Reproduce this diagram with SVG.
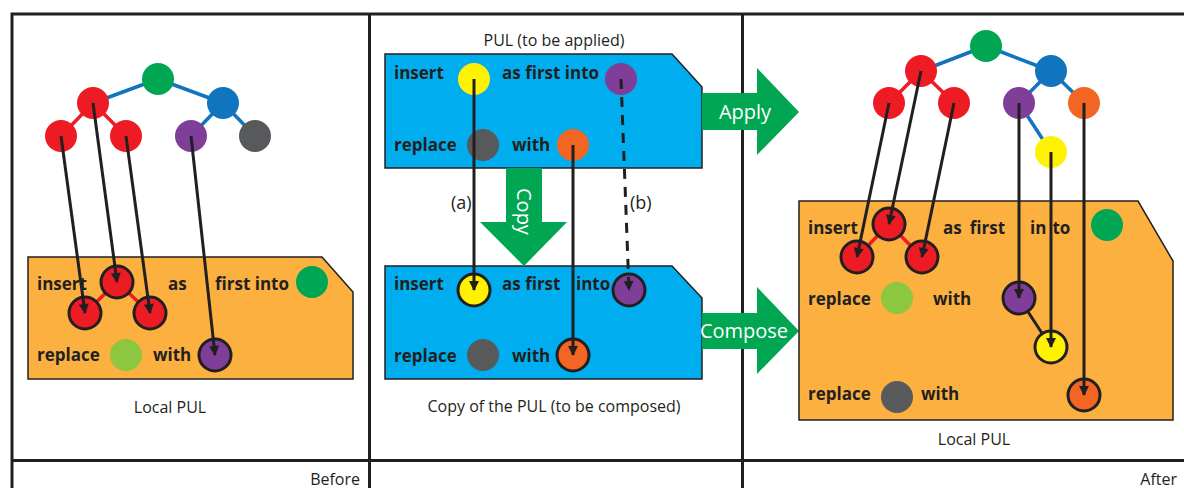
<svg xmlns="http://www.w3.org/2000/svg" width="1184" height="488" viewBox="0 0 1184 488">
  <defs>
    <style>
      .frame { stroke: #231f20; stroke-width: 3; fill: none; }
      .lbl { font-family: "Open Sans", "Liberation Sans", sans-serif; font-weight: 700; font-size: 17px; fill: #231f20; }
      .cap { font-family: "Open Sans", "Liberation Sans", sans-serif; font-size: 16px; fill: #231f20; }
      .tag { font-family: "Open Sans", "Liberation Sans", sans-serif; font-size: 18px; fill: #231f20; }
      .big { font-family: "Open Sans", "Liberation Sans", sans-serif; font-size: 20px; fill: #ffffff; }
      .box { stroke: #231f20; stroke-width: 1.5; }
      .orange-box { fill: #fbb040; }
      .blue-box { fill: #00aeef; }
      .go { fill: #00a651; }
      .ring { stroke: #231f20; stroke-width: 3; }
      .e-blue { stroke: #1174be; stroke-width: 3.5; }
      .e-red { stroke: #ed1c24; stroke-width: 3.5; }
      .e-black { stroke: #231f20; stroke-width: 3; }
      .link { stroke: #231f20; stroke-width: 3; fill: none; }
      .dash { stroke-dasharray: 10 8; }
      .red { fill: #ed1c24; }
      .green { fill: #00a651; }
      .blue { fill: #1174be; }
      .purple { fill: #7f3f98; }
      .gray { fill: #58595b; }
      .yellow { fill: #fff200; }
      .orange { fill: #f26522; }
      .lime { fill: #8dc63f; }
    </style>
    <marker id="tip" markerUnits="userSpaceOnUse" viewBox="0 0 10 10" markerWidth="11" markerHeight="10" refX="9" refY="5" orient="auto">
      <path d="M0,0 L10,5 L0,10 Z" fill="#231f20"/>
    </marker>
  </defs>

  <rect width="1184" height="488" fill="#ffffff"/>

  <!-- panel frame -->
  <g id="frame">
    <path class="frame" d="M12,488 V14 H1184 M369.5,14 V488 M742.5,14 V488 M12,460.5 H1184"/>
    <text class="cap" x="360" y="485" text-anchor="end">Before</text>
    <text class="cap" x="1177" y="485" text-anchor="end">After</text>
  </g>

  <!-- tree edges (drawn beneath the nodes) -->
  <g id="edges">
    <line class="e-blue" x1="158" y1="79" x2="93" y2="103"/>
    <line class="e-blue" x1="158" y1="79" x2="223" y2="103"/>
    <line class="e-red" x1="93" y1="103" x2="61" y2="136"/>
    <line class="e-red" x1="93" y1="103" x2="126" y2="136"/>
    <line class="e-blue" x1="223" y1="103" x2="191" y2="136"/>
    <line class="e-blue" x1="223" y1="103" x2="255" y2="136"/>

    <line class="e-blue" x1="986" y1="46" x2="921" y2="71"/>
    <line class="e-blue" x1="986" y1="46" x2="1051" y2="71"/>
    <line class="e-red" x1="921" y1="71" x2="889" y2="103"/>
    <line class="e-red" x1="921" y1="71" x2="954" y2="103"/>
    <line class="e-blue" x1="1051" y1="71" x2="1019" y2="103"/>
    <line class="e-blue" x1="1051" y1="71" x2="1084" y2="103"/>
    <line class="e-blue" x1="1019" y1="103" x2="1051" y2="152"/>
  </g>

  <!-- document tree, before -->
  <g id="tree-before">
    <circle class="green" cx="158" cy="79" r="16"/>
    <circle class="red" cx="93" cy="103" r="16"/>
    <circle class="blue" cx="223" cy="103" r="16"/>
    <circle class="red" cx="61" cy="136" r="16"/>
    <circle class="red" cx="126" cy="136" r="16"/>
    <circle class="purple" cx="191" cy="136" r="16"/>
    <circle class="gray" cx="255" cy="136" r="16"/>
  </g>

  <!-- local PUL, before -->
  <g id="local-pul-before">
    <path class="box orange-box" d="M28,257 H322 L353,292 V379 H28 Z"/>
    <line class="e-red" x1="117" y1="282" x2="85" y2="313"/>
    <line class="e-red" x1="117" y1="282" x2="150" y2="313"/>
    <text class="lbl" x="37" y="290">insert</text>
    <text class="lbl" x="168" y="290">as</text>
    <text class="lbl" x="215" y="290">first into</text>
    <text class="lbl" x="37" y="361">replace</text>
    <text class="lbl" x="153" y="361">with</text>
    <circle class="red ring" cx="117" cy="282" r="16"/>
    <circle class="red ring" cx="85" cy="313" r="16"/>
    <circle class="red ring" cx="150" cy="313" r="16"/>
    <circle class="green" cx="312" cy="282" r="16"/>
    <circle class="lime" cx="126" cy="355" r="16"/>
    <circle class="purple ring" cx="215" cy="355" r="16"/>
    <text class="cap" x="170" y="413" text-anchor="middle">Local PUL</text>
  </g>

  <!-- PUL to be applied -->
  <g id="pul-applied">
    <text class="cap" x="554" y="46" text-anchor="middle">PUL (to be applied)</text>
    <path class="box blue-box" d="M385,54 H672 L702,87 V168 H385 Z"/>
    <text class="lbl" x="394" y="79">insert</text>
    <text class="lbl" x="502" y="79">as first into</text>
    <text class="lbl" x="394" y="151">replace</text>
    <text class="lbl" x="512" y="151">with</text>
    <circle class="yellow" cx="474" cy="79" r="16"/>
    <circle class="purple" cx="621" cy="79" r="16"/>
    <circle class="gray" cx="483" cy="145" r="16"/>
    <circle class="orange" cx="573" cy="145" r="16"/>
  </g>

  <!-- copy of the PUL -->
  <g id="pul-copy">
    <path class="box blue-box" d="M385,266 H672 L702,298 V379 H385 Z"/>
    <text class="lbl" x="394" y="290">insert</text>
    <text class="lbl" x="502" y="290">as first</text>
    <text class="lbl" x="576" y="290">into</text>
    <text class="lbl" x="394" y="362">replace</text>
    <text class="lbl" x="512" y="362">with</text>
    <circle class="yellow ring" cx="474" cy="290" r="16"/>
    <circle class="purple ring" cx="629" cy="290" r="16"/>
    <circle class="gray" cx="483" cy="355" r="16"/>
    <circle class="orange ring" cx="573" cy="355" r="16"/>
    <text class="cap" x="554" y="412" text-anchor="middle">Copy of the PUL (to be composed)</text>
  </g>

  <!-- operation arrows -->
  <g id="op-copy">
    <path class="go" d="M506,168 H542 V222 H567 L524,266 L480,222 H506 Z"/>
    <text class="big" transform="translate(517,188) rotate(90)">Copy</text>
  </g>
  <g id="op-apply">
    <path class="go" d="M702,93 H757 V68 L799,112 L757,155 V130 H702 Z"/>
    <text class="big" x="745" y="119" text-anchor="middle">Apply</text>
  </g>
  <g id="op-compose">
    <path class="go" d="M702,313 H757 V287 L799,331 L757,374 V349 H702 Z"/>
    <text class="big" x="744" y="338" text-anchor="middle">Compose</text>
  </g>

  <!-- document tree, after -->
  <g id="tree-after">
    <circle class="green" cx="986" cy="46" r="16"/>
    <circle class="red" cx="921" cy="71" r="16"/>
    <circle class="blue" cx="1051" cy="71" r="16"/>
    <circle class="red" cx="889" cy="103" r="16"/>
    <circle class="red" cx="954" cy="103" r="16"/>
    <circle class="purple" cx="1019" cy="103" r="16"/>
    <circle class="orange" cx="1084" cy="103" r="16"/>
    <circle class="yellow" cx="1051" cy="152" r="16"/>
  </g>

  <!-- local PUL, after -->
  <g id="local-pul-after">
    <path class="box orange-box" d="M799,201 H1138 L1173,261 V420 H799 Z"/>
    <line class="e-red" x1="889" y1="224" x2="857" y2="257"/>
    <line class="e-red" x1="889" y1="224" x2="922" y2="257"/>
    <line class="e-black" x1="1019" y1="298" x2="1051" y2="347"/>
    <text class="lbl" x="808" y="234">insert</text>
    <text class="lbl" x="943" y="234">as<tspan dx="8">first</tspan></text>
    <text class="lbl" x="1030" y="234">in<tspan dx="6">to</tspan></text>
    <text class="lbl" x="808" y="305">replace</text>
    <text class="lbl" x="933" y="305">with</text>
    <text class="lbl" x="808" y="400">replace</text>
    <text class="lbl" x="921" y="400">with</text>
    <circle class="red ring" cx="889" cy="224" r="16"/>
    <circle class="red ring" cx="857" cy="257" r="16"/>
    <circle class="red ring" cx="922" cy="257" r="16"/>
    <circle class="green" cx="1107" cy="225" r="16"/>
    <circle class="lime" cx="897" cy="298" r="16"/>
    <circle class="purple ring" cx="1019" cy="298" r="16"/>
    <circle class="yellow ring" cx="1051" cy="347" r="16"/>
    <circle class="gray" cx="897" cy="397" r="16"/>
    <circle class="orange ring" cx="1084" cy="395" r="16"/>
    <text class="cap" x="974" y="445" text-anchor="middle">Local PUL</text>
  </g>

  <!-- node mapping connectors -->
  <g id="connectors">
    <line class="link" x1="61" y1="136" x2="85" y2="313" marker-end="url(#tip)"/>
    <line class="link" x1="93" y1="103" x2="117" y2="282" marker-end="url(#tip)"/>
    <line class="link" x1="126" y1="136" x2="150" y2="313" marker-end="url(#tip)"/>
    <line class="link" x1="191" y1="136" x2="215" y2="355" marker-end="url(#tip)"/>

    <line class="link" x1="474" y1="79" x2="474" y2="290" marker-end="url(#tip)"/>
    <line class="link" x1="573" y1="145" x2="573" y2="355" marker-end="url(#tip)"/>
    <line class="link dash" x1="621" y1="79" x2="629" y2="290" marker-end="url(#tip)"/>
    <text class="tag" x="451" y="209">(a)</text>
    <text class="tag" x="630" y="209">(b)</text>

    <line class="link" x1="889" y1="103" x2="857" y2="257" marker-end="url(#tip)"/>
    <line class="link" x1="921" y1="71" x2="889" y2="224" marker-end="url(#tip)"/>
    <line class="link" x1="954" y1="103" x2="922" y2="257" marker-end="url(#tip)"/>
    <line class="link" x1="1019" y1="103" x2="1019" y2="298" marker-end="url(#tip)"/>
    <line class="link" x1="1051" y1="152" x2="1051" y2="347" marker-end="url(#tip)"/>
    <line class="link" x1="1084" y1="103" x2="1084" y2="395" marker-end="url(#tip)"/>
  </g>
</svg>
